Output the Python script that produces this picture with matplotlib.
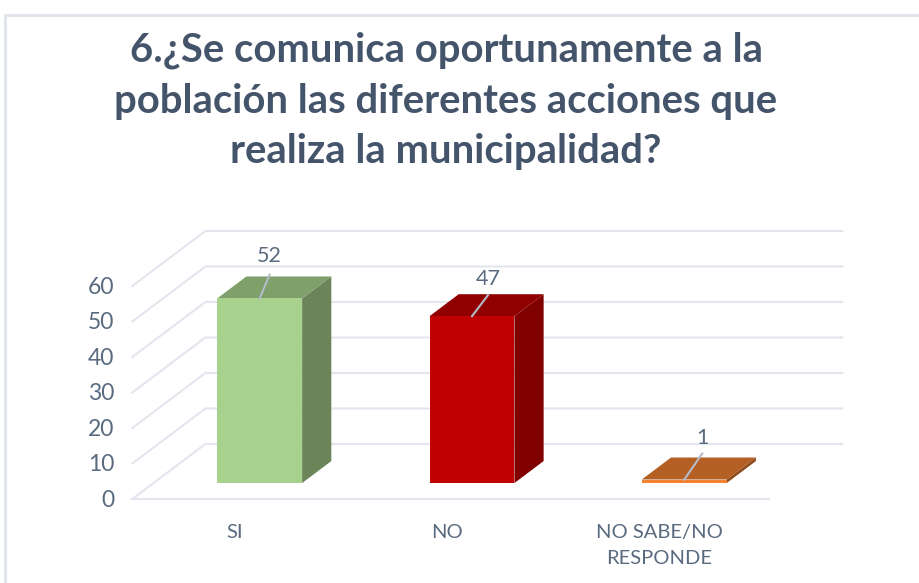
# -*- coding: utf-8 -*-
"""Excel style 3D column chart, drawn as an oblique projection on a flat axes."""
import matplotlib
matplotlib.use("Agg")
import matplotlib.pyplot as plt
from matplotlib.patches import Polygon

categories = ["SI", "NO", "NO SABE/NO\nRESPONDE"]
values = [52, 47, 1]
y_ticks = [0, 10, 20, 30, 40, 50, 60]
title = "6.¿Se comunica oportunamente a la\npoblación las diferentes acciones que\nrealiza la municipalidad?"

FRONT = ["#A9D18E", "#C00000", "#F28232"]
TOP = ["#7F9F6B", "#900000", "#B45F24"]
SIDE = ["#6B8559", "#800000", "#8F4B1C"]
INK = "#44546A"
AXIS_INK = "#5A6B80"
GRID = "#E3E6EE"
LEADER = "#B4BCC8"

W, H = 919, 583
PX_X = 212.3          # pixels per category
PX_Y = 3.55           # pixels per unit
X0_PX, Y0_PX = 238.5, 499
DEPTH_X = 73 / PX_X   # full floor depth in data units
DEPTH_Y = 55 / PX_Y
BAR_W = 0.40
D0, D1 = 0.29, 0.69   # bar position inside the floor depth

plt.rcParams["font.family"] = ["Lato", "DejaVu Sans"]

fig = plt.figure(figsize=(W / 100, H / 100), dpi=100)
ax = fig.add_axes([0, 0, 1, 1])
ax.set_xlim(-X0_PX / PX_X, (W - X0_PX) / PX_X)
ax.set_ylim(-(H - Y0_PX) / PX_Y, Y0_PX / PX_Y)
ax.axis("off")


def pr(x, v, d=0.0):
    # oblique projection: d=0 front of floor, d=1 back wall
    return x + d * DEPTH_X, v + d * DEPTH_Y


def main():
    # card border
    ax.plot([5 / W, 5 / W, 1], [0, 1 - 15 / H, 1 - 15 / H], transform=ax.transAxes,
            color="#DFE4EA", lw=2, zorder=0)

    # grid: back wall + left wall
    for t in y_ticks:
        xs, ys = zip(pr(-0.5, t, 0), pr(-0.5, t, 1), pr(2.5, t, 1))
        ax.plot(xs, ys, color=GRID, lw=1.5, zorder=1, solid_joinstyle="miter")
        ax.text(-0.5 - 18 / PX_X, t - 0.3, str(t), ha="right", va="center", fontsize=16.5, color=AXIS_INK)
    # front edge of the floor
    xs, ys = zip(pr(-0.5, 0, 0), pr(2.5, 0, 0))
    ax.plot(xs, ys, color=GRID, lw=1.5, zorder=1)

    # leader end offsets (px) and label offsets (px) per bar
    leader_end = [(10, 24), (16, 21), (18, 26)]
    label_gap = [18.5, 16.5, 16]

    for i, v in enumerate(values):
        l, r = i - BAR_W / 2, i + BAR_W / 2
        front = [pr(l, 0, D0), pr(r, 0, D0), pr(r, v, D0), pr(l, v, D0)]
        top = [pr(l, v, D0), pr(r, v, D0), pr(r, v, D1), pr(l, v, D1)]
        side = [pr(r, 0, D0), pr(r, 0, D1), pr(r, v, D1), pr(r, v, D0)]
        ax.add_patch(Polygon(side, fc=SIDE[i], ec="none", zorder=3))
        ax.add_patch(Polygon(top, fc=TOP[i], ec="none", zorder=3))
        ax.add_patch(Polygon(front, fc=FRONT[i], ec="none", zorder=4))

        x0, y0 = pr(i, v, D0)
        x1 = x0 + leader_end[i][0] / PX_X
        y1 = y0 + leader_end[i][1] / PX_Y
        ax.plot([x0, x1], [y0, y1], color=LEADER, lw=1.5, zorder=5)
        ax.text(x1, y1 + label_gap[i] / PX_Y, str(v), ha="center", va="center",
                fontsize=15.5, color=AXIS_INK, zorder=6)

        ax.text(i - 4 / PX_X, -(25 / PX_Y), categories[i], ha="center", va="top",
                fontsize=14.5, color=AXIS_INK, linespacing=1.65)

    fig.text(446 / W, 1 - 101 / H, title, ha="center", va="center", fontsize=28.8,
             fontweight="bold", color=INK, linespacing=1.45)
    fig.savefig("out.png", dpi=100, facecolor="white")
    plt.close(fig)


if __name__ == "__main__":
    main()
